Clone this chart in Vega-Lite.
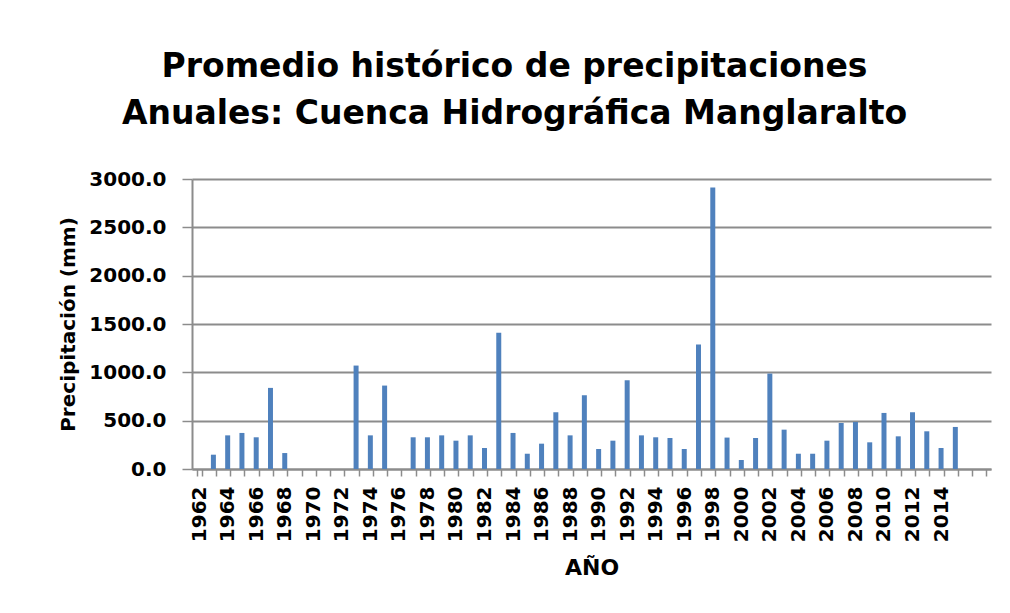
{
  "$schema": "https://vega.github.io/schema/vega-lite/v6.json",
  "autosize": "none",
  "width": 799,
  "height": 290,
  "padding": {"left": 192, "top": 179, "right": 19, "bottom": 144},
  "background": "white",
  "title": {
    "text": ["Promedio histórico de precipitaciones", "Anuales: Cuenca Hidrográfica Manglaralto"],
    "font": "DejaVu Sans",
    "fontSize": 33,
    "fontWeight": "bold",
    "color": "black",
    "anchor": "middle",
    "dx": -77,
    "lineHeight": 47,
    "offset": 38
  },
  "data": {
    "values": [
      {"year": 1963, "precip": 148},
      {"year": 1964, "precip": 348},
      {"year": 1965, "precip": 373},
      {"year": 1966, "precip": 328},
      {"year": 1967, "precip": 839},
      {"year": 1968, "precip": 165},
      {"year": 1973, "precip": 1070},
      {"year": 1974, "precip": 348},
      {"year": 1975, "precip": 863},
      {"year": 1977, "precip": 328},
      {"year": 1978, "precip": 328},
      {"year": 1979, "precip": 348},
      {"year": 1980, "precip": 293},
      {"year": 1981, "precip": 348},
      {"year": 1982, "precip": 217},
      {"year": 1983, "precip": 1409},
      {"year": 1984, "precip": 373},
      {"year": 1985, "precip": 158},
      {"year": 1986, "precip": 262},
      {"year": 1987, "precip": 587},
      {"year": 1988, "precip": 348},
      {"year": 1989, "precip": 763},
      {"year": 1990, "precip": 207},
      {"year": 1991, "precip": 293},
      {"year": 1992, "precip": 918},
      {"year": 1993, "precip": 348},
      {"year": 1994, "precip": 328},
      {"year": 1995, "precip": 321},
      {"year": 1996, "precip": 207},
      {"year": 1997, "precip": 1288},
      {"year": 1998, "precip": 2911},
      {"year": 1999, "precip": 325},
      {"year": 2000, "precip": 93},
      {"year": 2001, "precip": 321},
      {"year": 2002, "precip": 987},
      {"year": 2003, "precip": 407},
      {"year": 2004, "precip": 158},
      {"year": 2005, "precip": 158},
      {"year": 2006, "precip": 293},
      {"year": 2007, "precip": 476},
      {"year": 2008, "precip": 487},
      {"year": 2009, "precip": 276},
      {"year": 2010, "precip": 580},
      {"year": 2011, "precip": 338},
      {"year": 2012, "precip": 587},
      {"year": 2013, "precip": 390},
      {"year": 2014, "precip": 217},
      {"year": 2015, "precip": 435}
    ]
  },
  "mark": {"type": "bar", "color": "#4F81BD"},
  "encoding": {
    "x": {
      "field": "year",
      "type": "ordinal",
      "scale": {
        "domain": [1962,1963,1964,1965,1966,1967,1968,1969,1970,1971,1972,1973,1974,1975,1976,1977,1978,1979,1980,1981,1982,1983,1984,1985,1986,1987,1988,1989,1990,1991,1992,1993,1994,1995,1996,1997,1998,1999,2000,2001,2002,2003,2004,2005,2006,2007,2008,2009,2010,2011,2012,2013,2014,2015,2016,2017],
        "paddingInner": 0.65,
        "paddingOuter": 0.325
      },
      "axis": {
        "title": "AÑO",
        "titleFont": "DejaVu Sans",
        "titleFontSize": 22,
        "titleFontWeight": "bold",
        "titleColor": "black",
        "titlePadding": 16,
        "labelExpr": "(datum.value % 2 == 0 && datum.value <= 2014) ? datum.label : ''",
        "labelAngle": -90,
        "labelFont": "DejaVu Sans",
        "labelFontSize": 20,
        "labelFontWeight": "bold",
        "labelColor": "black",
        "labelPadding": 10,
        "labelOverlap": false,
        "tickBand": "extent",
        "tickSize": 7,
        "tickColor": "#8c8c8c",
        "tickWidth": 1.5,
        "domainColor": "#8c8c8c",
        "domainWidth": 2,
        "grid": false
      }
    },
    "y": {
      "field": "precip",
      "type": "quantitative",
      "scale": {"domain": [0, 3000]},
      "axis": {
        "title": "Precipitación (mm)",
        "titleFont": "DejaVu Sans",
        "titleFontSize": 20,
        "titleFontWeight": "bold",
        "titleColor": "black",
        "titlePadding": 10,
        "values": [0, 500, 1000, 1500, 2000, 2500, 3000],
        "format": ".1f",
        "labelFont": "DejaVu Sans",
        "labelFontSize": 20,
        "labelFontWeight": "bold",
        "labelColor": "black",
        "labelPadding": 16,
        "tickSize": 10,
        "tickColor": "#8c8c8c",
        "tickWidth": 1.5,
        "domainColor": "#8c8c8c",
        "domainWidth": 2,
        "grid": true,
        "gridColor": "#8c8c8c",
        "gridWidth": 2
      }
    }
  },
  "config": {"view": {"stroke": null}}
}
